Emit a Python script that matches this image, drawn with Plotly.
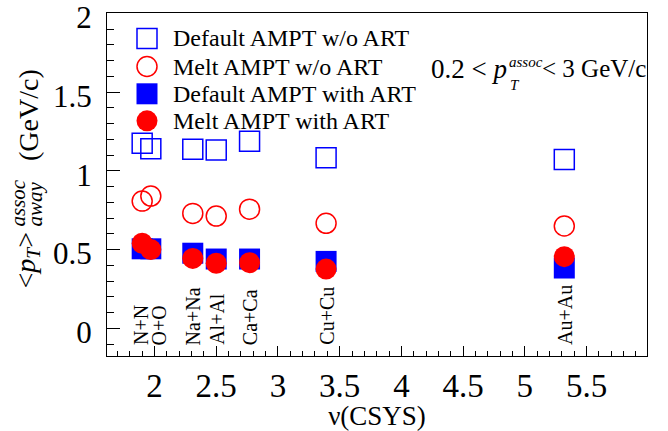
import plotly.graph_objects as go

# Collision systems and their nu values
systems = ["N+N", "O+O", "Na+Na", "Al+Al", "Ca+Ca", "Cu+Cu", "Au+Au"]
nu = [1.90, 1.97, 2.31, 2.50, 2.77, 3.39, 5.32]

# Away-side <pT> of associated particles (GeV/c)
default_noart = [1.175, 1.14, 1.137, 1.132, 1.189, 1.083, 1.073]
melt_noart = [0.808, 0.84, 0.73, 0.713, 0.757, 0.667, 0.65]
default_art = [0.505, 0.505, 0.477, 0.44, 0.44, 0.425, 0.383]
melt_art = [0.54, 0.50, 0.444, 0.413, 0.417, 0.376, 0.455]

legend_names = ["Default AMPT w/o ART", "Melt AMPT w/o ART",
                "Default AMPT with ART", "Melt AMPT with ART"]

FONT = "'Liberation Serif', 'Times New Roman', Times, serif"
BLUE = "#0000ff"
RED = "#ff0000"

W, H = 668, 431
ML, MR, MT, MB = 107, 21, 13, 75
L, R, T, B = ML, W - MR, MT, H - MB


def px_x(p):
    return (p - L) / (R - L)


def px_y(p):
    return (B - p) / (B - T)


styles = [
    dict(symbol="square-open", size=20, color=BLUE, line=dict(color=BLUE, width=1.5)),
    dict(symbol="circle-open", size=20, color=RED, line=dict(color=RED, width=1.5)),
    dict(symbol="square", size=21, color=BLUE, line=dict(width=0)),
    dict(symbol="circle", size=21, color=RED, line=dict(width=0)),
]
series = [default_noart, melt_noart, default_art, melt_art]

fig = go.Figure()
for name, vals, st in zip(legend_names, series, styles):
    fig.add_trace(go.Scatter(x=nu, y=vals, mode="markers", name=name,
                             marker=st, showlegend=False))

shapes = []
annotations = []

# Legend box drawn in the upper-left corner of the frame
rows = [38.5, 66.5, 93.8, 120.8]
kinds = [("rect", False, BLUE), ("circle", False, RED),
         ("rect", True, BLUE), ("circle", True, RED)]
for ry, (kind, filled, col), name in zip(rows, kinds, legend_names):
    half = 10.5 if filled else 10
    shapes.append(dict(
        type=kind, xref="paper", yref="paper",
        xsizemode="pixel", ysizemode="pixel",
        xanchor=px_x(147), yanchor=px_y(ry),
        x0=-half, x1=half, y0=-half, y1=half,
        line=dict(color=col, width=0 if filled else 1.5),
        fillcolor=col if filled else "rgba(0,0,0,0)",
    ))
    annotations.append(dict(
        text=name, x=px_x(171), y=px_y(ry),
        xanchor="left", yanchor="middle",
        font=dict(family=FONT, size=24, color="black"),
    ))

# Kinematic range note
small_font = dict(family=FONT, size=15, color="black")
annotations += [
    dict(text="0.2 < <i>p</i>", x=px_x(509), y=px_y(69), xanchor="right",
         yanchor="middle", font=dict(family=FONT, size=27, color="black")),
    dict(text="<i>assoc</i>", x=px_x(507), y=px_y(62), xanchor="left",
         yanchor="middle", font=small_font),
    dict(text="<i>T</i>", x=px_x(508), y=px_y(85), xanchor="left",
         yanchor="middle", font=small_font),
    dict(text="< 3 GeV/c", x=px_x(540), y=px_y(69), xanchor="left",
         yanchor="middle", font=dict(family=FONT, size=25, color="black")),
]

# Rotated y-axis title assembled from pieces
ytitle_font = dict(family=FONT, size=28, color="black")
ysub_font = dict(family=FONT, size=21, color="black")
annotations += [
    dict(text="<<i>p</i><sub><i>T</i></sub>>", x=px_x(27), y=px_y(291),
         xanchor="center", yanchor="bottom", textangle=-90, font=ytitle_font),
    dict(text="<i>assoc</i>", x=px_x(18), y=px_y(229),
         xanchor="center", yanchor="bottom", textangle=-90, font=ysub_font),
    dict(text="<i>away</i>", x=px_x(35), y=px_y(229),
         xanchor="center", yanchor="bottom", textangle=-90, font=ysub_font),
    dict(text="(GeV/c)", x=px_x(28), y=px_y(163),
         xanchor="center", yanchor="bottom", textangle=-90, font=ytitle_font),
]

# System labels written vertically above the x axis
nudge = {"N+N": -0.01, "O+O": 0.07}
for sysname, xv in zip(systems, nu):
    annotations.append(dict(
        text=sysname, x=xv + nudge.get(sysname, 0.005), y=px_y(347),
        xref="x", yref="paper", xanchor="center", yanchor="bottom",
        textangle=-90, font=dict(family=FONT, size=20, color="black"),
    ))

for a in annotations:
    a.setdefault("xref", "paper")
    a.setdefault("yref", "paper")
    a["showarrow"] = False

fig.update_layout(
    width=W, height=H,
    margin=dict(l=ML, r=MR, t=MT, b=MB, autoexpand=False),
    paper_bgcolor="white", plot_bgcolor="white",
    font=dict(family=FONT, color="black"),
    shapes=shapes, annotations=annotations,
    xaxis=dict(
        range=[1.615, 5.99], dtick=0.5, tick0=0, automargin=False,
        ticks="inside", ticklen=10, tickwidth=1, tickcolor="black",
        minor=dict(dtick=0.1, ticks="inside", ticklen=5, tickcolor="black"),
        showgrid=False, zeroline=False,
        showline=True, linecolor="black", linewidth=1, mirror=True,
        tickfont=dict(family=FONT, size=33), ticklabeloverflow="allow",
        title=dict(text="ν(CSYS)", font=dict(family=FONT, size=27), standoff=2),
    ),
    yaxis=dict(
        range=[-0.176, 2.003], dtick=0.5, tick0=0, automargin=False,
        ticks="inside", ticklen=13, tickwidth=1, tickcolor="black",
        minor=dict(dtick=0.1, ticks="inside", ticklen=7, tickcolor="black"),
        showgrid=False, zeroline=False,
        showline=True, linecolor="black", linewidth=1, mirror=True,
        tickfont=dict(family=FONT, size=31), ticklabelstandoff=8,
        ticklabelshift=4, ticklabeloverflow="allow",
    ),
)

fig.write_html("out.html")
